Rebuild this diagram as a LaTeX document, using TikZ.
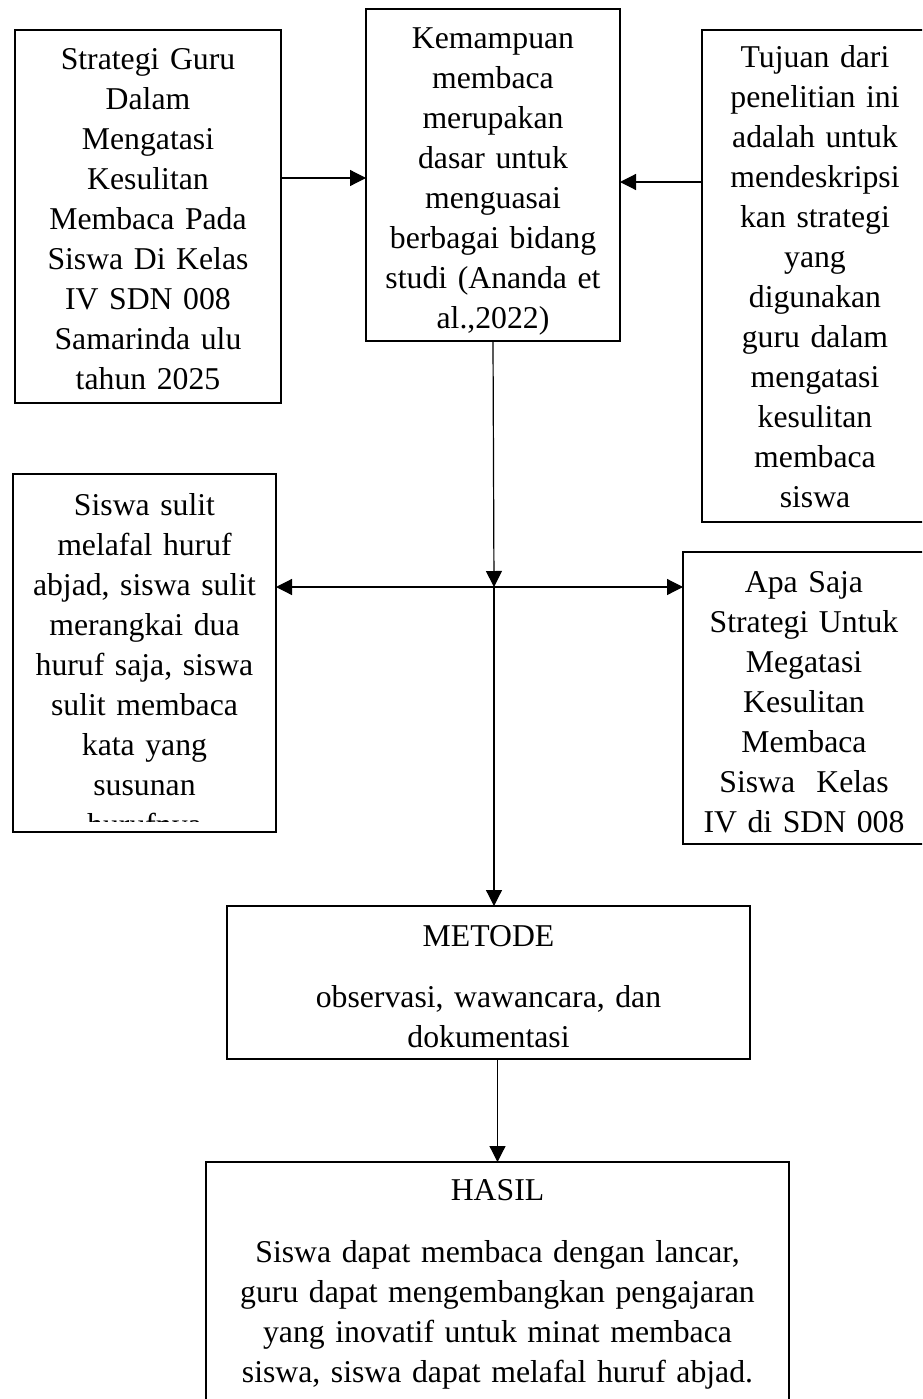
\documentclass[tikz,border=0pt]{standalone}
\usepackage{fontspec}
\setmainfont{Liberation Serif}
\usetikzlibrary{arrows.meta,positioning}

\tikzset{
  kotak/.style={draw, rectangle, line width=0.9pt, inner sep=0pt, outer sep=0pt},
  isi/.style={anchor=north, inner sep=0pt, align=center, text width=#1,
    font=\fontsize{23.8}{30}\selectfont},
  panah/.style={-{Triangle[length=12pt,width=12pt]}, line width=0.9pt},
  panahdua/.style={{Triangle[length=12pt,width=12pt]}-{Triangle[length=12pt,width=12pt]}, line width=0.9pt}
}

\begin{document}
\begin{tikzpicture}[x=0.75pt,y=0.75pt,yscale=-1,xscale=1]
\useasboundingbox (0,0) rectangle (922,1399);
\clip (0,0) rectangle (922,1399);

%Boxes
\node[kotak, minimum width=199.5pt, minimum height=279.75pt] (cap) at (148,216.5) {};
\node[kotak, minimum width=190.5pt, minimum height=249pt] (kemampuan) at (493,175) {};
\node[kotak, minimum width=169.5pt, minimum height=369pt] (tujuan) at (815,276) {};
\node[kotak, minimum width=197.25pt, minimum height=268.5pt] (siswa) at (144.5,653) {};
\node[kotak, minimum width=181.5pt, minimum height=219pt] (apa) at (804,698) {};
\node[kotak, minimum width=392.25pt, minimum height=114.75pt] (metode) at (488.5,982.5) {};
\node[kotak, minimum width=437.25pt, minimum height=201pt] (hasil) at (497.5,1296) {};

% Text in boxes
\node[isi=190pt, below=13.9pt of cap.north] (capT) {Strategi Guru\\Dalam\\Mengatasi\\Kesulitan\\Membaca Pada\\Siswa Di Kelas\\IV SDN 008\\Samarinda ulu\\tahun 2025};
\node[isi=185pt, below=13.5pt of kemampuan.north] (kemampuanT) {Kemampuan\\membaca\\merupakan\\dasar untuk\\menguasai\\berbagai bidang\\studi (Ananda et\\al.,2022)};
\node[isi=165pt, below=11.5pt of tujuan.north] (tujuanT) {Tujuan dari\\penelitian ini\\adalah untuk\\mendeskripsi\\kan strategi\\yang\\digunakan\\guru dalam\\mengatasi\\kesulitan\\membaca\\siswa};
\begin{scope}
\clip (13,474) rectangle (276,821);
\node[isi=190pt, below=14.25pt of siswa.north] (siswaT) {Siswa sulit\\melafal huruf\\abjad, siswa sulit\\merangkai dua\\huruf saja, siswa\\sulit membaca\\kata yang\\susunan\\hurufnya};
\end{scope}
\node[isi=175pt, below=14.25pt of apa.north] (apaT) {Apa Saja\\Strategi Untuk\\Megatasi\\Kesulitan\\Membaca\\Siswa\ \ Kelas\\IV di SDN 008};
\node[isi=380pt, below=14.25pt of metode.north] (metodeT) {METODE\\[15.75pt]observasi, wawancara, dan\\dokumentasi};
\node[isi=430pt, below=12.75pt of hasil.north] (hasilT) {HASIL\\[16.5pt]Siswa dapat membaca dengan lancar,\\guru dapat mengembangkan pengajaran\\yang inovatif untuk minat membaca\\siswa, siswa dapat melafal huruf abjad.};

%Connectors
\coordinate (y1) at (0,178);
\coordinate (y2) at (0,182);
\coordinate (silang) at (494,587);
\draw[panah] (cap.east |- y1) -- (kemampuan.west |- y1);
\draw[panah] (tujuan.west |- y2) -- (kemampuan.east |- y2);
\draw[panah] (kemampuan.south) -- (silang);
\draw[panahdua] (siswa.east |- silang) -- (apa.west |- silang);
\draw[panah] (silang) -- (metode.north -| silang);
\draw[panah] (hasil.north |- metode.south) -- (hasil.north);

\end{tikzpicture}
\end{document}
